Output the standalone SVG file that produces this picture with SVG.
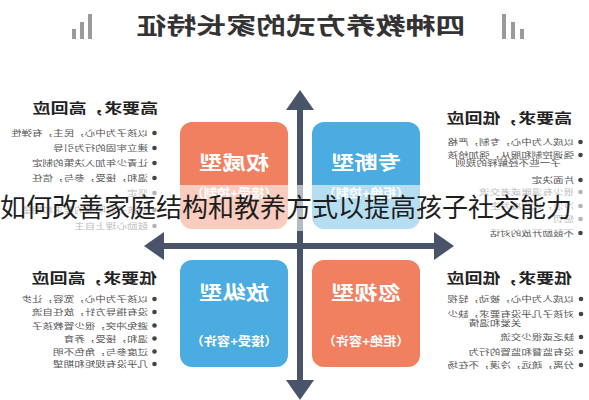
<svg xmlns="http://www.w3.org/2000/svg" width="589" height="400" viewBox="0 0 589 400">
<style>
.t{font-family:"Noto Sans CJK SC","Noto Sans",sans-serif}
.title{font-size:23px;font-weight:700;fill:#333}
.hd{font-size:14px;font-weight:700;fill:#222}
.it{font-size:8px;fill:#555}
.bx{font-size:19px;font-weight:700;fill:#fff;text-anchor:middle}
.sub{font-size:12px;font-weight:700;fill:#fff;text-anchor:middle}
.dot{fill:#444}
.bar{fill:#9a9a9a}
.axis{stroke:#49546A;stroke-width:6;fill:none;marker-start:url(#ah);marker-end:url(#ah)}
.or{fill:#F0805F}
.bl{fill:#4AACE1}
.ov{font-family:"Noto Sans CJK SC",sans-serif;font-size:26px;fill:#1e1e1e}
</style>
<defs>
<marker id="ah" markerUnits="userSpaceOnUse" markerWidth="20" markerHeight="28" viewBox="0 0 20 28" refX="0" refY="14" orient="auto-start-reverse">
<path d="M0,0 L20,14 L0,28 Z" fill="#49546A"/>
</marker>
</defs>
<rect width="589" height="400" fill="#fff"/>

<g id="title">
<rect class="bar" x="72" y="29" width="4" height="10"/>
<rect class="bar" x="80" y="22" width="4" height="17"/>
<rect class="bar" x="88" y="14" width="4" height="25"/>
<rect class="bar" x="502" y="14" width="4" height="25"/>
<rect class="bar" x="511" y="22" width="4" height="17"/>
<rect class="bar" x="520" y="29" width="4" height="10"/>
<text class="t title" text-anchor="middle" transform="translate(301,34) scale(-1.3,1)">四种教养方式的家长特征</text>
</g>

<g id="connectors">
<line class="axis" x1="300" y1="110" x2="300" y2="380"/>
<line class="axis" x1="164" y1="246" x2="434" y2="246"/>
</g>

<g id="box-authoritative">
<rect class="or" x="180" y="122" width="108" height="107" rx="12"/>
<text class="t bx" transform="translate(234,170) scale(-1.23,1)">权威型</text>
<text class="t sub" transform="translate(234,197.5) scale(-1.1,1)">（接受+控制）</text>
</g>
<g id="box-authoritarian">
<rect class="bl" x="312" y="122" width="108" height="107" rx="12"/>
<text class="t bx" transform="translate(366,170) scale(-1.23,1)">专断型</text>
<text class="t sub" transform="translate(366,197.5) scale(-1.1,1)">（拒绝+控制）</text>
</g>
<g id="box-permissive">
<rect class="bl" x="180" y="260" width="108" height="107" rx="12"/>
<text class="t bx" transform="translate(234,300) scale(-1.23,1)">放纵型</text>
<text class="t sub" transform="translate(234,345.5) scale(-1.1,1)">（接受+容许）</text>
</g>
<g id="box-neglectful">
<rect class="or" x="312" y="260" width="108" height="107" rx="12"/>
<text class="t bx" transform="translate(366,300) scale(-1.23,1)">忽视型</text>
<text class="t sub" transform="translate(366,345.5) scale(-1.1,1)">（拒绝+容许）</text>
</g>

<g id="list-high-high">
<text class="t hd" transform="translate(158,113.3) scale(-1.28,1)">高要求，高回应</text>
<circle class="dot" cx="154.5" cy="133" r="2.3"/><text class="t it" transform="translate(148,136) scale(-1.32,1)">以孩子为中心，民主，有弹性</text>
<circle class="dot" cx="154.5" cy="148" r="2.3"/><text class="t it" transform="translate(148,151) scale(-1.32,1)">建立牢固的行为引导</text>
<circle class="dot" cx="154.5" cy="163" r="2.3"/><text class="t it" transform="translate(148,166) scale(-1.32,1)">让青少年加入决策的制定</text>
<circle class="dot" cx="154.5" cy="178" r="2.3"/><text class="t it" transform="translate(148,181) scale(-1.32,1)">温和，接受，参与，信任</text>
<circle class="dot" cx="154.5" cy="193" r="2.3"/><text class="t it" transform="translate(148,196) scale(-1.32,1)">坚定</text>
<circle class="dot" cx="154.5" cy="210" r="2.3"/><text class="t it" transform="translate(148,213) scale(-1.32,1)">对孩子有明确的要求和期望</text>
<circle class="dot" cx="154.5" cy="226" r="2.3"/><text class="t it" transform="translate(148,229) scale(-1.32,1)">鼓励心理上自主</text>
</g>

<g id="list-high-low">
<text class="t hd" transform="translate(572,123.3) scale(-1.28,1)">高要求，低回应</text>
<circle class="dot" cx="580.5" cy="142" r="2.3"/><text class="t it" transform="translate(574,145) scale(-1.32,1)">以成人为中心，专制，严格</text>
<circle class="dot" cx="580.5" cy="155" r="2.3"/><text class="t it" transform="translate(574,158) scale(-1.32,1)">强调控制和服从，强加给孩</text>
<text class="t it" text-anchor="middle" transform="translate(508,166) scale(-1.32,1)">子一些不经解释的规则</text>
<circle class="dot" cx="580.5" cy="180" r="2.3"/><text class="t it" transform="translate(574,183) scale(-1.32,1)">片面决定</text>
<circle class="dot" cx="580.5" cy="192" r="2.3"/><text class="t it" transform="translate(574,195) scale(-1.32,1)">很少有温暖或者交流</text>
<circle class="dot" cx="580.5" cy="206" r="2.3"/><text class="t it" transform="translate(574,209) scale(-1.32,1)">冷淡，以权威为主</text>
<circle class="dot" cx="580.5" cy="219" r="2.3"/><text class="t it" transform="translate(574,222) scale(-1.32,1)">惩罚</text>
<circle class="dot" cx="580.5" cy="233" r="2.3"/><text class="t it" transform="translate(574,236) scale(-1.32,1)">不鼓励开放的对话</text>
</g>

<g id="list-low-high">
<text class="t hd" transform="translate(157,283.3) scale(-1.28,1)">低要求，高回应</text>
<circle class="dot" cx="154.5" cy="299" r="2.3"/><text class="t it" transform="translate(148,302) scale(-1.32,1)">以孩子为中心，宽容，让步</text>
<circle class="dot" cx="154.5" cy="312" r="2.3"/><text class="t it" transform="translate(148,315) scale(-1.32,1)">没有指导方针，放任自流</text>
<circle class="dot" cx="154.5" cy="325.5" r="2.3"/><text class="t it" transform="translate(148,328.5) scale(-1.32,1)">避免冲突，很少管教孩子</text>
<circle class="dot" cx="154.5" cy="338.5" r="2.3"/><text class="t it" transform="translate(148,341.5) scale(-1.32,1)">温和，接受，养育</text>
<circle class="dot" cx="154.5" cy="351.5" r="2.3"/><text class="t it" transform="translate(148,354.5) scale(-1.32,1)">过度参与，角色不明</text>
<circle class="dot" cx="154.5" cy="364" r="2.3"/><text class="t it" transform="translate(148,367) scale(-1.32,1)">几乎没有规矩和期望</text>
</g>

<g id="list-low-low">
<text class="t hd" transform="translate(572,283.3) scale(-1.28,1)">低要求，低回应</text>
<circle class="dot" cx="581" cy="299" r="2.3"/><text class="t it" transform="translate(574,302) scale(-1.32,1)">以成人为中心，被动，轻视</text>
<circle class="dot" cx="581" cy="314" r="2.3"/><text class="t it" transform="translate(574,317) scale(-1.32,1)">对孩子几乎没有要求，缺少</text>
<text class="t it" text-anchor="middle" transform="translate(495,326) scale(-1.32,1)">关爱和温情</text>
<circle class="dot" cx="581" cy="337" r="2.3"/><text class="t it" transform="translate(574,340) scale(-1.32,1)">缺乏或很少交流</text>
<circle class="dot" cx="581" cy="352" r="2.3"/><text class="t it" transform="translate(574,355) scale(-1.32,1)">没有监督和监管的行为</text>
<circle class="dot" cx="581" cy="365" r="2.3"/><text class="t it" transform="translate(574,368) scale(-1.32,1)">分离，疏远，冷漠，不在场</text>
</g>

<g id="overlay">
<rect x="0" y="185" width="589" height="46" fill="#fff" opacity="0.6"/>
<text class="ov" x="0" y="217">如何改善家庭结构和教养方式以提高孩子社交能力</text>
</g>
</svg>
